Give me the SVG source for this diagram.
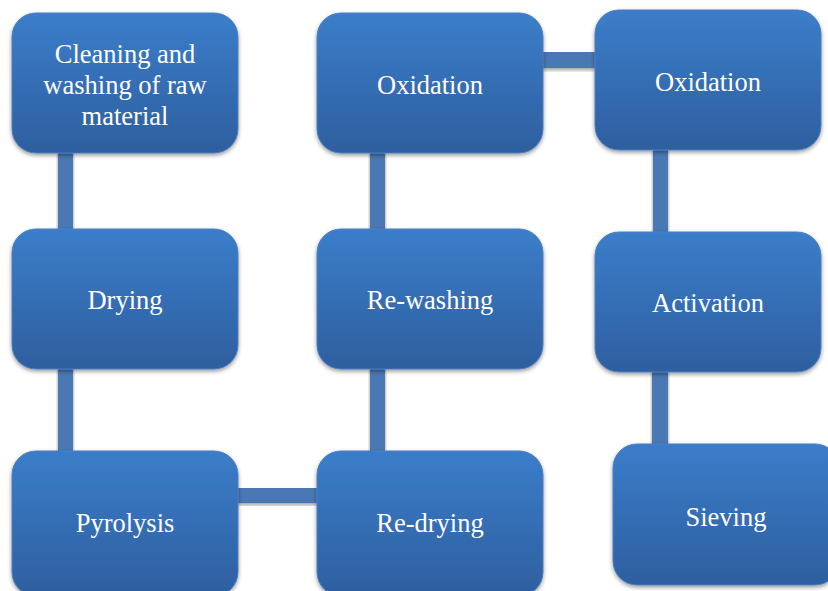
<svg xmlns="http://www.w3.org/2000/svg" width="828" height="591" viewBox="0 0 828 591">
<defs>
<linearGradient id="g" x1="0" y1="0" x2="0" y2="1">
<stop offset="0" stop-color="#3b7dca"/>
<stop offset="1" stop-color="#2e5f9f"/>
</linearGradient>
<filter id="sh" x="-10%" y="-10%" width="120%" height="130%">
<feGaussianBlur in="SourceAlpha" stdDeviation="2"/>
<feOffset dy="2"/>
<feComponentTransfer><feFuncA type="linear" slope="0.4"/></feComponentTransfer>
<feMerge><feMergeNode/><feMergeNode in="SourceGraphic"/></feMerge>
</filter>
</defs>
<style>
.n{fill:url(#g);stroke:#4a7fc0;stroke-width:1;filter:url(#sh)}
.c{fill:#4878b4;filter:url(#sh)}
.t{font-size:26.5px;fill:#fff;text-anchor:middle}
</style>
<rect width="828" height="591" fill="#fff"/>
<g id="connectors">
<rect class="c" x="58" y="150" width="15" height="80"/>
<rect class="c" x="58" y="366" width="15" height="87"/>
<rect class="c" x="236" y="488" width="83" height="15"/>
<rect class="c" x="370" y="366" width="15" height="87"/>
<rect class="c" x="370" y="150" width="15" height="80"/>
<rect class="c" x="541" y="52" width="56" height="16"/>
<rect class="c" x="653" y="148" width="15" height="86"/>
<rect class="c" x="652" y="370" width="16" height="76"/>
</g>
<g font-family="'Liberation Serif', 'Times New Roman', 'DejaVu Serif', serif">
<g id="n1"><rect class="n" x="12" y="13" width="226" height="140" rx="24"/>
<text class="t" x="125" y="63">Cleaning and</text><text class="t" x="125" y="94">washing of raw</text><text class="t" x="125" y="125">material</text></g>
<g id="n2"><rect class="n" x="12" y="229" width="226" height="140" rx="24"/><text class="t" x="125" y="309">Drying</text></g>
<g id="n3"><rect class="n" x="12" y="451" width="226" height="145" rx="24"/><text class="t" x="125" y="532">Pyrolysis</text></g>
<g id="n4"><rect class="n" x="317" y="451" width="226" height="145" rx="24"/><text class="t" x="430" y="532">Re-drying</text></g>
<g id="n5"><rect class="n" x="317" y="229" width="226" height="140" rx="24"/><text class="t" x="430" y="309">Re-washing</text></g>
<g id="n6"><rect class="n" x="317" y="13" width="226" height="140" rx="24"/><text class="t" x="430" y="94">Oxidation</text></g>
<g id="n7"><rect class="n" x="595" y="10" width="226" height="140" rx="24"/><text class="t" x="708" y="91">Oxidation</text></g>
<g id="n8"><rect class="n" x="595" y="232" width="226" height="140" rx="24"/><text class="t" x="708" y="312">Activation</text></g>
<g id="n9"><rect class="n" x="613" y="444" width="226" height="141" rx="24"/><text class="t" x="726" y="526">Sieving</text></g>
</g>
</svg>
